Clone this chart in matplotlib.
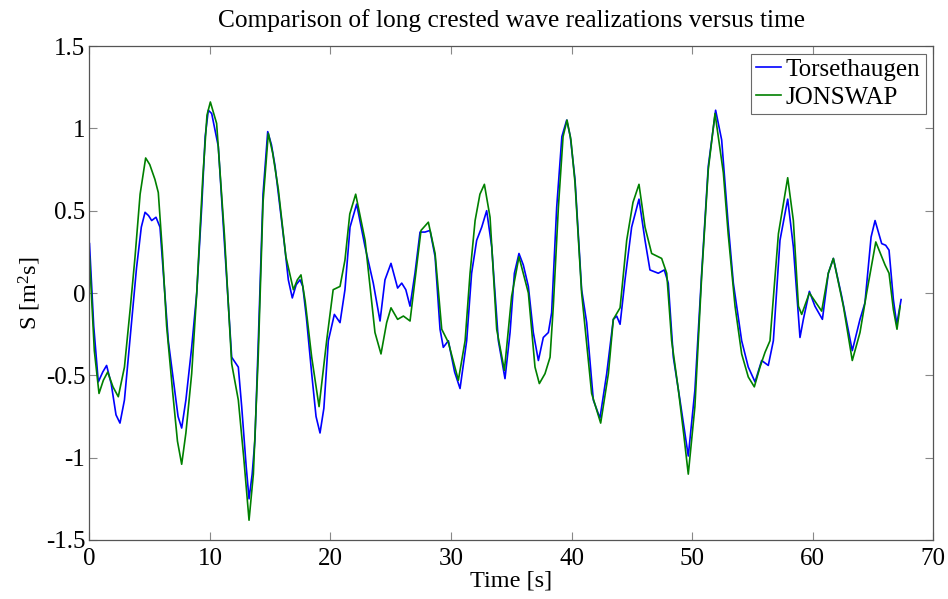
import matplotlib
matplotlib.use("Agg")
import matplotlib.pyplot as plt
from matplotlib.ticker import FuncFormatter

t_tors = [0, 0.35, 0.73, 1.1, 1.42, 1.8, 2.2, 2.53, 2.9, 3.4, 3.9, 4.3, 4.61, 4.9, 5.16, 5.52, 5.85, 6.2, 6.54, 7.0,
          7.35, 7.65, 8.0, 8.48, 8.9, 9.31, 9.6, 9.86, 10.14, 10.69, 11.2, 11.8, 12.35, 12.63, 13.0, 13.24, 13.5, 13.73,
          14.01, 14.4, 14.79, 15.1, 15.4, 16.2, 16.5, 16.83, 17.15, 17.47, 17.7, 18.0, 18.44, 18.8, 19.13, 19.45, 19.82,
          20.32, 20.79, 21.2, 21.62, 22.17, 22.87, 23.55, 24.11, 24.52, 25.02, 25.57, 25.91, 26.25, 26.6, 27.01, 27.43,
          27.84, 28.26, 28.68, 29.09, 29.36, 29.78, 30.3, 30.75, 31.3, 31.71, 32.13, 32.55, 32.96, 33.38, 33.93, 34.48,
          34.9, 35.26, 35.64, 36.0, 36.42, 36.83, 37.25, 37.66, 38.08, 38.35, 38.77, 39.2, 39.6, 39.9, 40.29, 40.84,
          41.26, 41.81, 42.36, 42.92, 43.47, 43.75, 44.03, 44.44, 44.99, 45.6, 46.1, 46.51, 47.2, 47.7, 48.03, 48.45,
          49.0, 49.69, 50.24, 50.8, 51.35, 51.96, 52.46, 53.0, 53.43, 54.12, 54.67, 55.23, 55.78, 56.33, 56.75, 57.3,
          57.94, 58.41, 58.96, 59.24, 59.74, 60.2, 60.82, 61.31, 61.73, 62.42, 63.3, 63.94, 64.35, 64.86, 65.19, 65.74,
          66.07, 66.35, 66.71, 66.99, 67.35]
s_tors = [0.30, -0.20, -0.54, -0.48, -0.44, -0.55, -0.74, -0.79, -0.65, -0.25, 0.15, 0.40, 0.49, 0.47, 0.44, 0.46, 0.40,
          0.05, -0.29, -0.55, -0.75, -0.82, -0.65, -0.33, 0.0, 0.52, 0.95, 1.11, 1.09, 0.89, 0.30, -0.39, -0.45, -0.69,
          -1.05, -1.25, -1.10, -0.89, -0.29, 0.60, 0.98, 0.90, 0.77, 0.28, 0.08, -0.03, 0.05, 0.08, 0.04, -0.15, -0.49,
          -0.75, -0.85, -0.70, -0.29, -0.13, -0.18, 0.02, 0.40, 0.54, 0.28, 0.06, -0.17, 0.08, 0.18, 0.03, 0.06, 0.02,
          -0.08, 0.12, 0.37, 0.37, 0.38, 0.22, -0.22, -0.33, -0.29, -0.48, -0.58, -0.29, 0.12, 0.32, 0.40, 0.50, 0.28,
          -0.29, -0.52, -0.24, 0.12, 0.24, 0.17, 0.04, -0.24, -0.41, -0.27, -0.24, -0.12, 0.52, 0.95, 1.05, 0.95, 0.69,
          0.02, -0.18, -0.65, -0.76, -0.49, -0.16, -0.14, -0.19, 0.08, 0.40, 0.57, 0.32, 0.14, 0.12, 0.14, 0.06, -0.39,
          -0.65, -0.99, -0.59, 0.12, 0.77, 1.11, 0.93, 0.42, 0.06, -0.29, -0.45, -0.54, -0.41, -0.44, -0.29, 0.32, 0.57,
          0.28, -0.27, -0.16, 0.01, -0.08, -0.16, 0.12, 0.21, -0.02, -0.35, -0.16, -0.06, 0.34, 0.44, 0.30, 0.29, 0.26,
          -0.04, -0.19, -0.04]

t_jons = [0, 0.4, 0.79, 1.15, 1.51, 1.95, 2.39, 2.9, 3.4, 3.78, 4.2, 4.66, 5.0, 5.43, 5.71, 6.05, 6.4, 6.9, 7.3, 7.65,
          8.0, 8.48, 8.9, 9.4, 9.75, 10.03, 10.55, 11.2, 11.8, 12.35, 12.8, 13.24, 13.6, 14.0, 14.4, 14.84, 15.2, 15.67,
          16.3, 16.92, 17.25, 17.55, 17.9, 18.44, 19.05, 19.68, 20.22, 20.79, 21.2, 21.6, 22.09, 22.87, 23.69, 24.19,
          24.66, 25.02, 25.57, 26.05, 26.6, 27.01, 27.51, 28.12, 28.68, 29.23, 29.78, 30.61, 31.17, 31.58, 32.0, 32.4,
          32.77, 33.24, 33.79, 34.43, 35.03, 35.64, 36.42, 36.97, 37.33, 37.8, 38.22, 38.49, 38.91, 39.3, 39.63, 39.95,
          40.29, 40.84, 41.67, 42.42, 43.06, 43.47, 44.03, 44.58, 45.1, 45.6, 46.1, 46.65, 47.48, 47.9, 48.31, 48.87,
          49.3, 49.69, 50.24, 50.8, 51.35, 51.91, 52.6, 53.0, 53.57, 54.12, 54.67, 55.17, 55.64, 56.06, 56.47, 57.17,
          57.94, 58.41, 58.83, 59.1, 59.74, 60.2, 60.76, 61.31, 61.73, 62.56, 63.3, 63.94, 64.49, 65.25, 66.02, 66.35,
          66.71, 67.01, 67.27]
s_jons = [0.22, -0.35, -0.61, -0.53, -0.48, -0.57, -0.63, -0.45, -0.08, 0.22, 0.60, 0.82, 0.78, 0.69, 0.61, 0.25,
          -0.20, -0.60, -0.90, -1.04, -0.85, -0.49, 0.0, 0.70, 1.08, 1.16, 1.03, 0.35, -0.43, -0.65, -1.00, -1.38,
          -1.10, -0.39, 0.55, 0.97, 0.85, 0.63, 0.22, 0.02, 0.08, 0.11, -0.05, -0.39, -0.69, -0.29, 0.02, 0.04, 0.20,
          0.48, 0.60, 0.32, -0.24, -0.37, -0.18, -0.09, -0.16, -0.14, -0.17, 0.08, 0.38, 0.43, 0.24, -0.22, -0.30,
          -0.53, -0.29, 0.12, 0.44, 0.60, 0.66, 0.46, -0.22, -0.47, -0.02, 0.22, 0.00, -0.45, -0.55, -0.49, -0.39,
          -0.08, 0.52, 0.95, 1.05, 0.93, 0.67, 0.00, -0.61, -0.79, -0.49, -0.16, -0.09, 0.32, 0.55, 0.66, 0.40, 0.24,
          0.21, 0.12, -0.29, -0.59, -0.85, -1.10, -0.69, 0.10, 0.75, 1.09, 0.73, 0.36, -0.08, -0.37, -0.51, -0.57,
          -0.45, -0.36, -0.29, 0.36, 0.70, 0.44, -0.08, -0.13, 0.00, -0.05, -0.11, 0.12, 0.21, -0.08, -0.41, -0.24,
          0.00, 0.31, 0.17, 0.12, -0.10, -0.22, -0.08]

x_ticks = [0, 10, 20, 30, 40, 50, 60, 70]
y_ticks = [-1.5, -1, -0.5, 0, 0.5, 1, 1.5]

plt.rcParams['font.family'] = ['Liberation Serif', 'DejaVu Serif']
plt.rcParams['mathtext.fontset'] = 'custom'
plt.rcParams['mathtext.rm'] = 'Liberation Serif'
plt.rcParams['mathtext.it'] = 'Liberation Serif:italic'
plt.rcParams['axes.unicode_minus'] = False

fig = plt.figure(figsize=(9.48, 5.99), dpi=100)
ax = fig.add_axes([0.0944, 0.0985, 0.8898, 0.8247])

ax.plot(t_tors, s_tors, color=(0, 0, 1), lw=1.2, label='Torsethaugen')
ax.plot(t_jons, s_jons, color=(0, 0.5, 0), lw=1.2, label='JONSWAP')

ax.set_xlim(0, 70)
ax.set_ylim(-1.5, 1.5)
ax.set_xticks(x_ticks)
ax.set_yticks(y_ticks)
ax.yaxis.set_major_formatter(FuncFormatter(lambda v, p: '%g' % v))
ax.tick_params(direction='in', top=True, right=True, labelsize=18, length=6, width=0.8,
               color='#888888', labelcolor='#000000')
ax.tick_params(axis='x', pad=6)
ax.tick_params(axis='y', pad=3)
for sp in ax.spines.values():
    sp.set_linewidth(0.9)
    sp.set_color('#555555')

ax.set_xlabel('Time [s]', fontsize=17.5, labelpad=0)
ax.set_ylabel('S [m$^2$s]', fontsize=17.5, labelpad=2)
ax.set_title('Comparison of long crested wave realizations versus time', fontsize=18.3, pad=14)

leg = ax.legend(loc='upper right', fontsize=18, frameon=True, fancybox=False, handlelength=1.0,
                handletextpad=0.2, borderpad=0.2, labelspacing=0.2, borderaxespad=0.3)
leg.get_frame().set_edgecolor('#444444')
leg.get_frame().set_linewidth(0.8)

fig.savefig('out.png', dpi=100)
